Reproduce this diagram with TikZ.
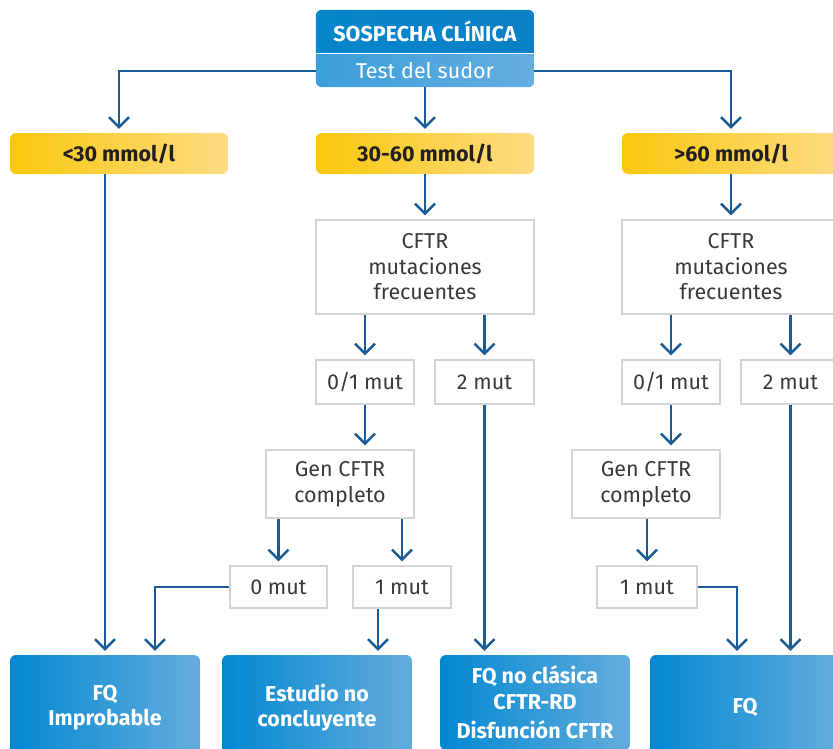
\documentclass[tikz,border=0pt]{standalone}
\usepackage{fontspec}
\setmainfont{Fira Sans}
\usepackage{tikz}
\usetikzlibrary{arrows.meta}

\definecolor{hdrdark}{HTML}{0786CC}
\definecolor{hdrdarkb}{HTML}{0A80C6}
\definecolor{hdrlight}{HTML}{3C9FDA}
\definecolor{hdrlightb}{HTML}{64ADDF}
\definecolor{resleft}{HTML}{0288D1}
\definecolor{resright}{HTML}{64ADDD}
\definecolor{ylwleft}{HTML}{F9C70C}
\definecolor{ylwright}{HTML}{FDDC84}
\definecolor{lineblue}{HTML}{1B5C96}
\definecolor{boxgrey}{HTML}{D4D4D4}
\definecolor{txtgrey}{HTML}{3A3A3A}
\definecolor{txtdark}{HTML}{231F20}

\pgfdeclarelayer{bg}
\pgfsetlayers{bg,main}

\tikzset{
  basefont/.style={font=\fontsize{21.5}{25.5}\selectfont},
  hdrtext/.style={basefont, text=white, inner sep=0pt, minimum width=218pt, align=center},
  rangebox/.style={font=\fontsize{21.5}{25.5}\selectfont\bfseries, text=txtdark,
    rounded corners=6pt, left color=ylwleft, right color=ylwright,
    inner sep=0pt, minimum width=218pt, minimum height=41pt},
  testbox/.style={basefont, text=txtgrey, draw=boxgrey, line width=1.3pt, fill=white,
    inner sep=0pt, align=center},
  result/.style={font=\fontsize{21.5}{25.5}\selectfont\bfseries, text=white,
    rounded corners=6pt, left color=resleft, right color=resright,
    inner sep=0pt, minimum width=190pt, minimum height=105pt, align=center},
  arr/.style={draw=lineblue, line width=2.4pt,
    -{Straight Barb[length=10pt,width=20pt]}, shorten >=4pt},
}

\begin{document}
\begin{tikzpicture}[x=1pt, y=-1pt]
  \useasboundingbox (0,0) rectangle (833,748);

  % cabecera
  \node[hdrtext, minimum height=42pt] (sospecha) at (425,31) {\bfseries SOSPECHA CLÍNICA};
  \node[hdrtext, minimum height=32pt] (sudor) at (425,71) {Test del sudor};
  \begin{pgfonlayer}{bg}
    \begin{scope}
      \clip (sospecha.north west) rectangle (sospecha.south east);
      \shade[left color=hdrdark, right color=hdrdarkb, rounded corners=6pt]
        (sospecha.north west) rectangle ([yshift=-10pt]sospecha.south east);
    \end{scope}
    \begin{scope}
      \clip (sudor.north west) rectangle (sudor.south east);
      \shade[left color=hdrlight, right color=hdrlightb, rounded corners=6pt]
        ([yshift=10pt]sudor.north west) rectangle (sudor.south east);
    \end{scope}
  \end{pgfonlayer}

  % rangos de cloro
  \node[rangebox] (menor) at (119,153.5) {<30 mmol/l};
  \node[rangebox] (medio) at (425,153.5) {30-60 mmol/l};
  \node[rangebox] (mayor) at (731,153.5) {>60 mmol/l};

  % estudio genetico
  \node[testbox, minimum width=218pt, minimum height=94pt] (cftrA) at (425,267) {CFTR\\mutaciones\\frecuentes};
  \node[testbox, minimum width=218pt, minimum height=94pt] (cftrB) at (731,267) {CFTR\\mutaciones\\frecuentes};
  \node[testbox, minimum width=98pt, minimum height=44pt] (mutAa) at (365,382) {0/1 mut};
  \node[testbox, minimum width=99pt, minimum height=44pt] (mutAb) at (484.5,382) {2 mut};
  \node[testbox, minimum width=98pt, minimum height=44pt] (mutBa) at (671,382) {0/1 mut};
  \node[testbox, minimum width=99pt, minimum height=44pt] (mutBb) at (790.5,382) {2 mut};
  \node[testbox, minimum width=148pt, minimum height=68pt] (genA) at (340,484) {Gen CFTR\\completo};
  \node[testbox, minimum width=148pt, minimum height=68pt] (genB) at (646,484) {Gen CFTR\\completo};
  \node[testbox, minimum width=97pt, minimum height=42pt] (ceroA) at (278.5,587) {0 mut};
  \node[testbox, minimum width=98pt, minimum height=42pt] (unaA) at (402,587) {1 mut};
  \node[testbox, minimum width=100pt, minimum height=42pt] (unaB) at (647,587) {1 mut};

  % resultados
  \node[result] (improb) at (105,707.5) {FQ\\Improbable};
  \node[result] (noconc) at (317,707.5) {Estudio no\\concluyente};
  \node[result, minimum height=95pt] (noclas) at (535,702.5) {FQ no clásica\\CFTR-RD\\[4pt]Disfunción CFTR};
  \node[result] (fq) at (745,707.5) {FQ};

  % conectores
  \draw[arr] (sudor.west) -| (menor.north);
  \draw[arr] (sudor.south) -- (medio.north);
  \draw[arr] (sudor.east) -| (mayor.north);

  \draw[arr] (improb.north |- menor.south) -- (improb.north);
  \draw[arr] (medio.south) -- (cftrA.north);
  \draw[arr] (mayor.south) -- (cftrB.north);

  \draw[arr] (mutAa.north |- cftrA.south) -- (mutAa.north);
  \draw[arr] (mutAb.north |- cftrA.south) -- (mutAb.north);
  \draw[arr] (mutBa.north |- cftrB.south) -- (mutBa.north);
  \draw[arr] (mutBb.north |- cftrB.south) -- (mutBb.north);

  \draw[arr] (mutAa.south) -- (mutAa.south |- genA.north);
  \draw[arr] (mutBa.south) -- (mutBa.south |- genB.north);
  \draw[arr] (ceroA.north |- genA.south) -- (ceroA.north);
  \draw[arr] (unaA.north |- genA.south) -- (unaA.north);
  \draw[arr] (unaB.north |- genB.south) -- (unaB.north);

  \draw[arr] (ceroA.west) -| ([xshift=50pt]improb.north);
  \draw[arr] ([xshift=-24pt]unaA.south) -- ([xshift=-24pt]unaA.south |- noconc.north);
  \draw[arr] (mutAb.south) -- (mutAb.south |- noclas.north);
  \draw[arr] (unaB.east) -| ([xshift=-8pt]fq.north);
  \draw[arr] (mutBb.south) -- (mutBb.south |- fq.north);
\end{tikzpicture}
\end{document}
